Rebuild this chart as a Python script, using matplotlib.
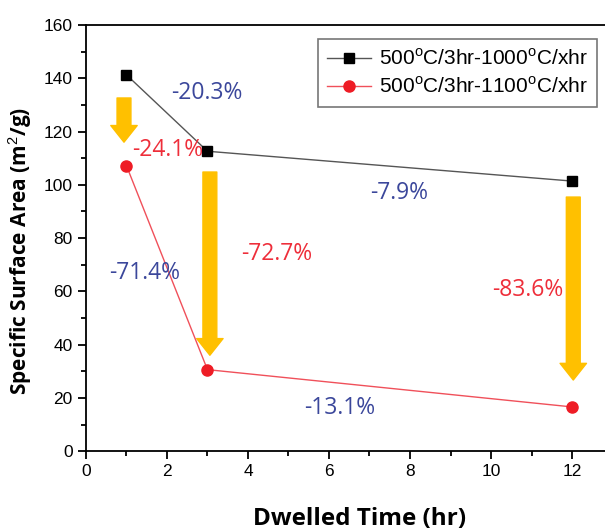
import matplotlib.pyplot as plt
from matplotlib.patches import FancyArrowPatch
from matplotlib.ticker import MultipleLocator

# dwelled time (hr)
hours = [1, 3, 12]
ssa_1000 = [141.3, 112.6, 101.4]
ssa_1100 = [107.2, 30.6, 16.6]

lbl_1000 = r'500$^{\mathrm{o}}$C/3hr-1000$^{\mathrm{o}}$C/xhr'
lbl_1100 = r'500$^{\mathrm{o}}$C/3hr-1100$^{\mathrm{o}}$C/xhr'

# percentage change labels: (text, x, y, colour)
blue = '#3B479B'
red = '#EE2E3A'
pct_labels = [
    ('-20.3%', 2.99, 134.5, blue),
    ('-24.1%', 2.03, 113.0, red),
    ('-7.9%', 7.73, 97.0, blue),
    ('-71.4%', 1.46, 67.0, blue),
    ('-72.7%', 4.72, 74.0, red),
    ('-83.6%', 10.91, 60.5, red),
    ('-13.1%', 6.27, 16.1, blue),
]

# down arrows: x, y start, y end
arrows = [
    (0.94, 132.6, 116.0),
    (3.06, 104.8, 36.0),
    (12.03, 95.4, 26.7),
]

plt.rcParams['font.family'] = ['Liberation Sans', 'DejaVu Sans']
plt.rcParams['mathtext.fontset'] = 'custom'
plt.rcParams['mathtext.rm'] = 'Liberation Sans'

fig = plt.figure(figsize=(6.05, 5.32), dpi=100)
ax = fig.add_axes([0.142, 0.152, 0.904, 0.801])

ax.plot(hours, ssa_1000, color='#555555', lw=1.0, marker='s', ms=7,
        mfc='black', mec='black', label=lbl_1000)
ax.plot(hours, ssa_1100, color='#F0505A', lw=1.0, marker='o', ms=8,
        mfc='#EE1C25', mec='#EE1C25', label=lbl_1100)

for x, y0, y1 in arrows:
    a = FancyArrowPatch((x, y0), (x, y1), mutation_scale=1,
                        arrowstyle='simple,head_width=19,head_length=12,tail_width=10',
                        color='#FFC000', shrinkA=0, shrinkB=0, zorder=1)
    ax.add_patch(a)

for txt, x, y, c in pct_labels:
    ax.text(x, y, txt, color=c, fontsize=16.5, ha='center', va='center',
            family=['Open Sans', 'DejaVu Sans'], zorder=4)

ax.set_xlim(0, 13.5)
ax.set_ylim(0, 160)
ax.xaxis.set_major_locator(MultipleLocator(2))
ax.xaxis.set_minor_locator(MultipleLocator(1))
ax.yaxis.set_major_locator(MultipleLocator(20))
ax.yaxis.set_minor_locator(MultipleLocator(10))
ax.tick_params(which='major', direction='out', length=6, width=1.3, labelsize=12.5)
ax.tick_params(which='minor', direction='out', length=3.5, width=1.3)
ax.tick_params(top=False, right=False, which='both')
for s in ax.spines.values():
    s.set_linewidth(1.3)
ax.spines['right'].set_visible(False)

ax.set_xlabel('Dwelled Time (hr)', fontsize=17.5, fontweight='bold',
              family=['Open Sans', 'DejaVu Sans'], labelpad=20)
ax.set_ylabel('Specific Surface Area (m$^{2}$/g)', fontsize=15, fontweight='bold',
              family=['Open Sans', 'DejaVu Sans'])
ax.yaxis.set_label_coords(-0.095, 0.47)

leg = ax.legend(loc='upper left', bbox_to_anchor=(0.424, 0.967), fontsize=15,
                fancybox=False, edgecolor='#777777', framealpha=1,
                handlelength=2.1, borderpad=0.45, labelspacing=0.35,
                handletextpad=0.4, borderaxespad=0)
leg.get_frame().set_linewidth(1.2)

fig.savefig('out.png', dpi=100)
